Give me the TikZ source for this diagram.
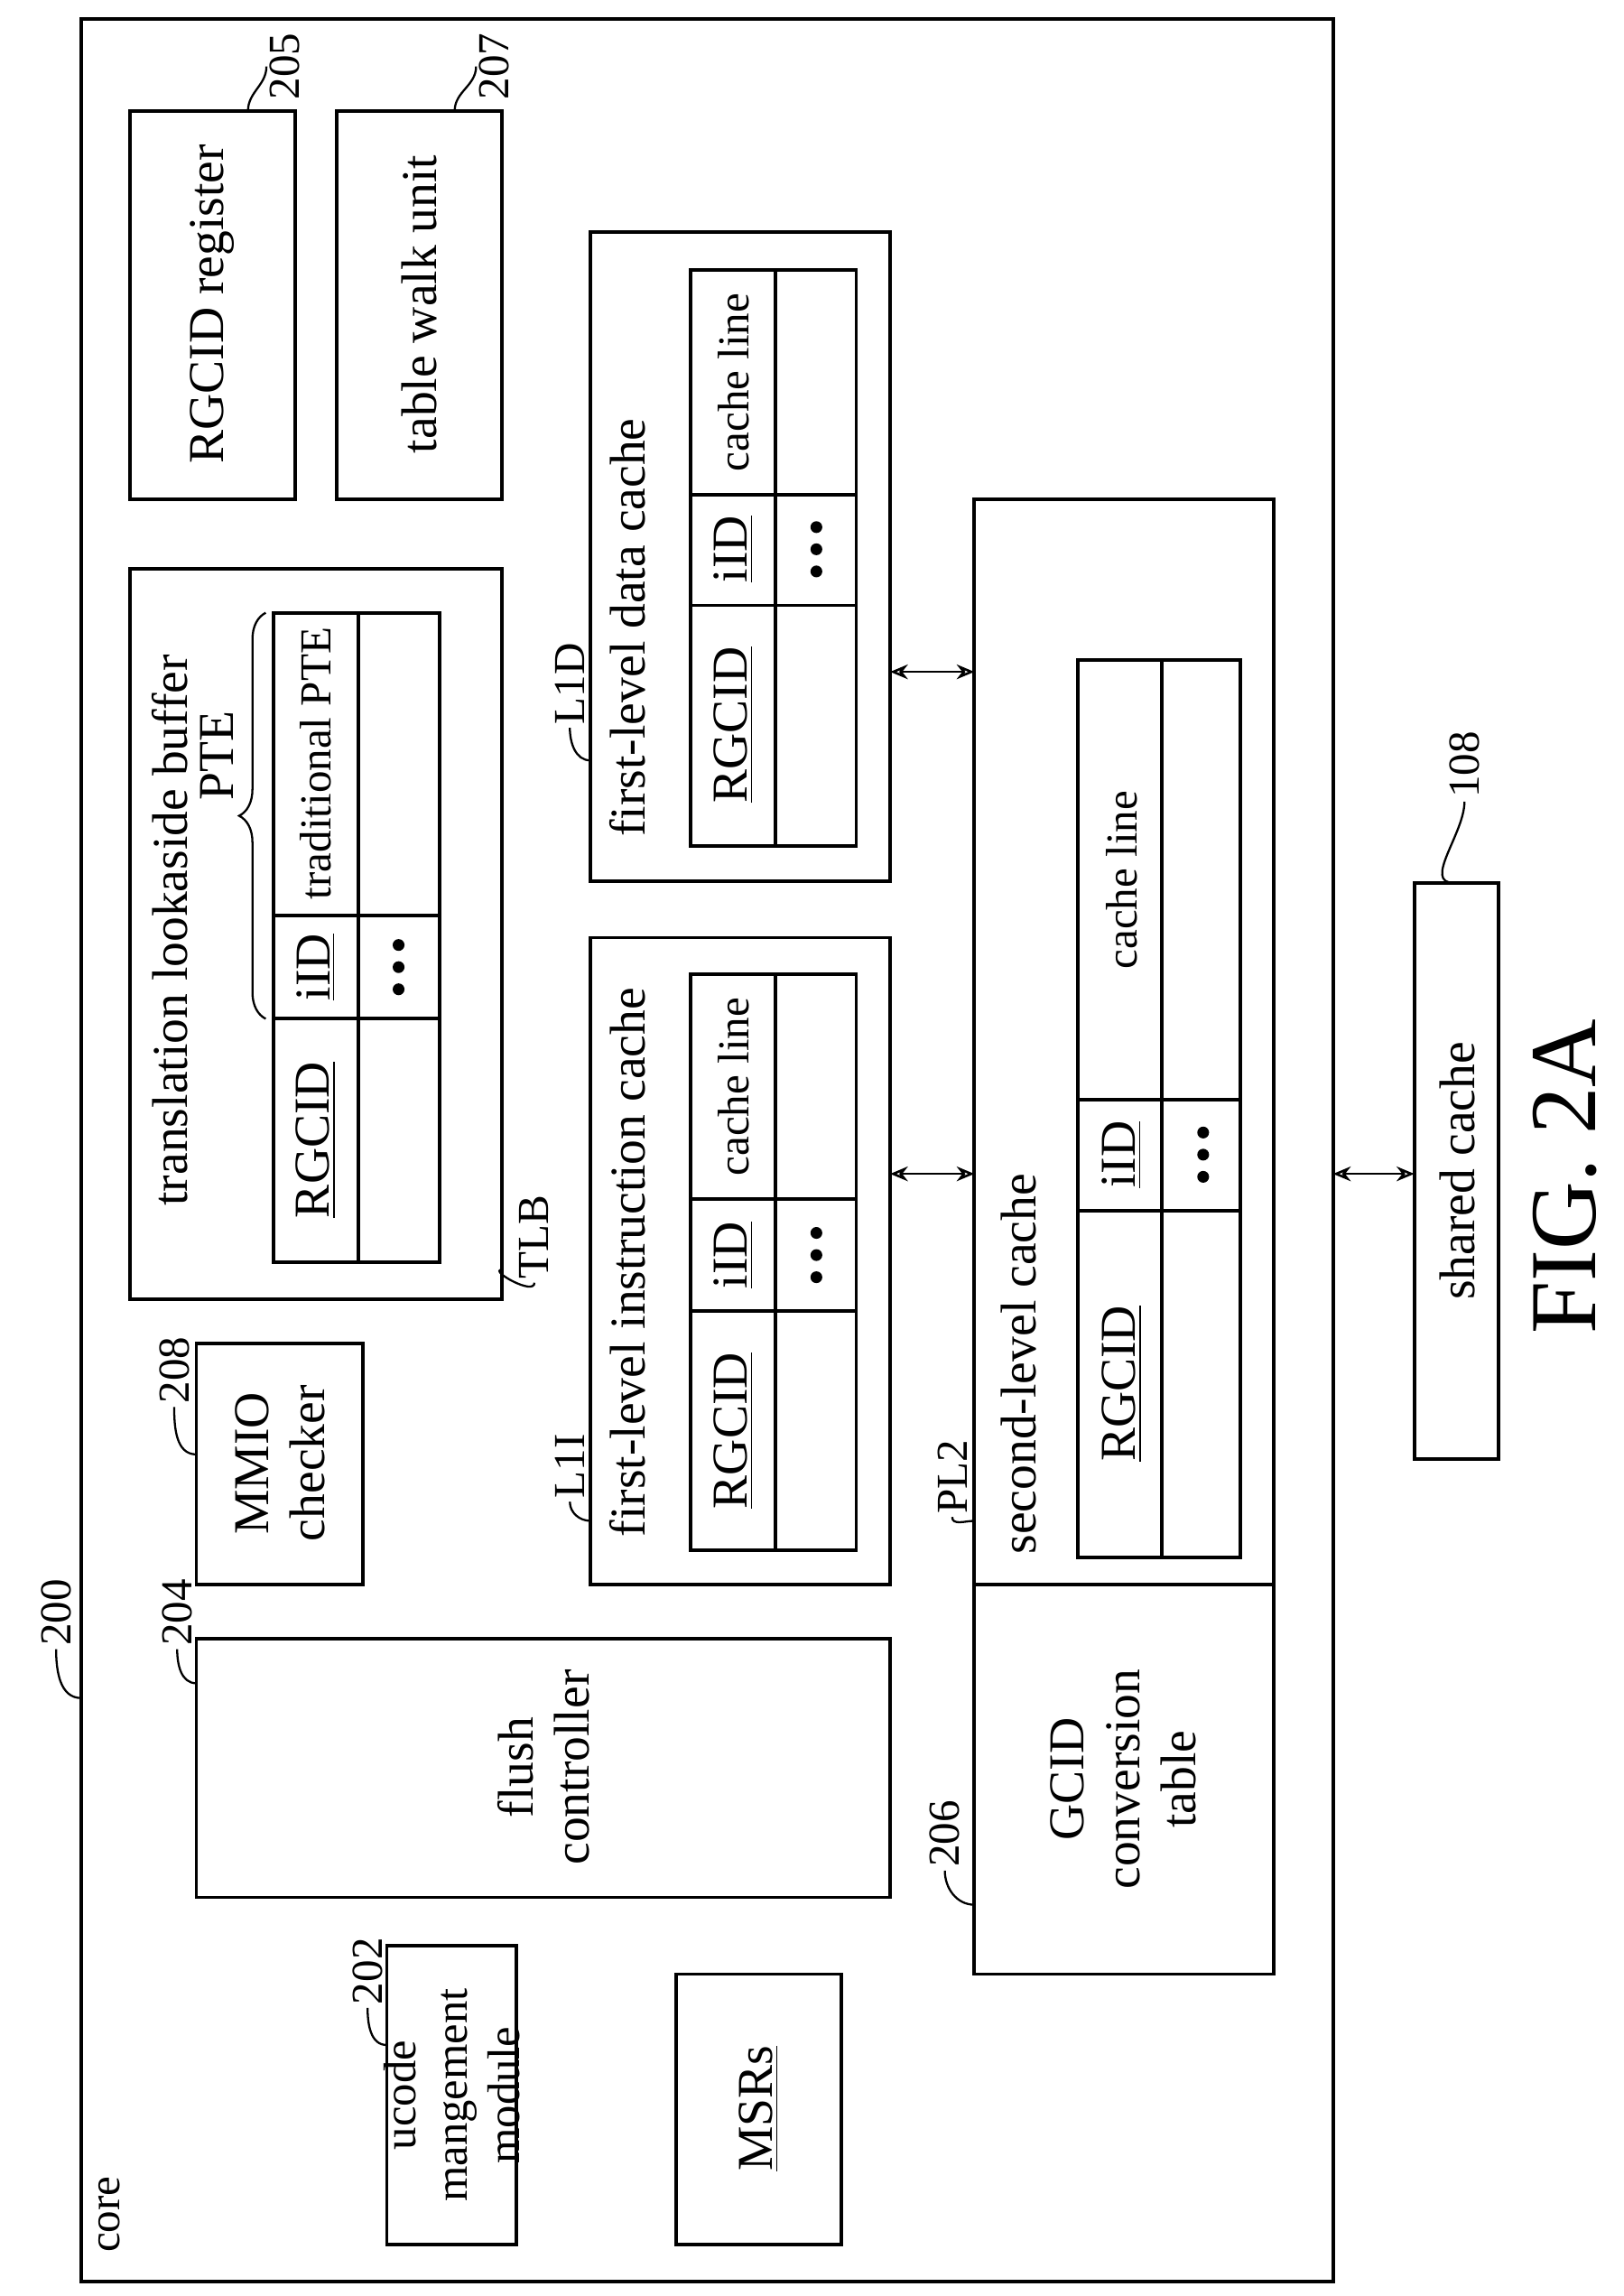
\documentclass[tikz,border=0pt]{standalone}
\usepackage{fontspec}
\setmainfont{Liberation Serif}
\usetikzlibrary{decorations.pathreplacing,arrows.meta}
\newcommand\bx[5]{\node[boxst,minimum width={(#4-#2)*0.5pt},minimum height={(#5-#3)*0.5pt}] (#1) at ({(#2+#4)/2},{(#3+#5)/2}) {};}
\begin{document}
\begin{tikzpicture}[x=0.5pt,y=-0.5pt,
  boxst/.style={draw,line width=1.2pt,inner sep=0,outer sep=0},
  ln/.style={line width=1.2pt},
  lead/.style={line width=0.7pt},
  txt/.style={rotate=90,font=\fontsize{17}{19}\selectfont,align=center,inner sep=1pt},
  sm/.style={rotate=90,font=\fontsize{15}{17}\selectfont,align=center,inner sep=1pt},
  dot/.style={fill,circle,inner sep=0,minimum size=4pt},
  arr/.style={line width=0.8pt,{Stealth[length=6pt,width=5pt,open]}-{Stealth[length=6pt,width=5pt,open]}}]
\useasboundingbox (0,0) rectangle (1100,1555);
\bx{core}{55}{13}{903}{1545}
\bx{rg}{88}{75}{200}{338}
\bx{tw}{228}{75}{340}{338}
\bx{tlb}{88}{385}{340}{880}
\bx{tlbt}{185}{415}{298}{855}
\bx{mmio}{133}{910}{246}{1073}
\bx{flush}{133}{1110}{603}{1285}
\bx{ucode}{262}{1318}{350}{1520}
\bx{msr}{458}{1337}{570}{1520}
\bx{lii}{400}{635}{603}{1073}
\bx{liit}{468}{660}{580}{1050}
\bx{lid}{400}{157}{603}{597}
\bx{lidt}{468}{183}{580}{573}
\bx{ltwo}{660}{338}{863}{1073}
\bx{ltwot}{730}{447}{840}{1055}
\bx{gcid}{660}{1073}{863}{1337}
\bx{sh}{958}{598}{1015}{988}
% table lines
\draw[ln] (243,415)--(243,855) (185,620)--(298,620) (185,690)--(298,690);
\draw[ln] (525,660)--(525,1050) (468,812)--(580,812) (468,888)--(580,888);
\draw[ln] (525,183)--(525,573) (468,335)--(580,335) (468,410)--(580,410);
\draw[ln] (787,447)--(787,1055) (730,745)--(840,745) (730,820)--(840,820);
% dots
\foreach \x/\y in {270/655,553/850,553/372,815/782}{
  \node[dot] (d\x a\y) at (\x,\y-15) {}; \node[dot] (d\x b\y) at (\x,\y) {}; \node[dot] (d\x c\y) at (\x,\y+15) {};}
% texts
\node[sm,anchor=west] (tcore) at (74,1528) {core};
\node[txt] (trg) at (144,206) {RGCID register};
\node[txt] (ttw) at (284,206) {table walk unit};
\node[txt] (ttlb) at (115,630) {translation lookaside buffer};
\node[txt] (tpte) at (147,512) {PTE};
\draw[lead,decorate,decoration={brace,amplitude=9pt}] (180,690)--(180,415);
\node[sm] (ttrad) at (214,517) {traditional PTE};
\node[txt] (tiid1) at (214,655) {\underline{iID}};
\node[txt] (trg1) at (214,772) {\underline{RGCID}};
\node[txt] (tmmio) at (190,991) {MMIO\\checker};
\node[txt] (tfl) at (368,1197) {flush\\controller};
\node[txt,font=\fontsize{15.5}{17.5}\selectfont] (tuc) at (306,1419) {ucode\\mangement\\module};
\node[txt] (tmsr) at (514,1428) {\underline{MSRs}};
\node[txt] (tlii) at (425,855) {first-level instruction cache};
\node[sm] (tcl2) at (497,736) {cache line};
\node[txt] (tiid2) at (497,850) {\underline{iID}};
\node[txt] (trg2) at (497,969) {\underline{RGCID}};
\node[txt] (tlid) at (425,425) {first-level data cache};
\node[sm] (tcl3) at (497,259) {cache line};
\node[txt] (tiid3) at (497,372) {\underline{iID}};
\node[txt] (trg3) at (497,491) {\underline{RGCID}};
\node[txt,anchor=west] (tl2) at (690,1055) {second-level cache};
\node[sm] (tcl4) at (760,596) {cache line};
\node[txt] (tiid4) at (760,782) {\underline{iID}};
\node[txt] (trg4) at (760,937) {\underline{RGCID}};
\node[txt] (tgc) at (761,1205) {GCID\\conversion\\table};
\node[txt] (tsh) at (987,793) {shared cache};
\node[rotate=90,font=\fontsize{32}{36}\selectfont] (tfig) at (1060,797) {FIG. 2A};
% arrows
\draw[arr] (lid.east |- 0,455) -- (ltwo.west |- 0,455);
\draw[arr] (lii.east |- 0,795) -- (ltwo.west |- 0,795);
\draw[arr] (core.east |- 0,795) -- (sh.west |- 0,795);
% reference labels
\node[sm] (l200) at (38,1092) {200};
\node[sm] (l204) at (120,1092) {204};
\node[sm] (l208) at (118,928) {208};
\node[sm] (l202) at (249,1335) {202};
\node[sm] (l205) at (193,45) {205};
\node[sm] (l207) at (335,45) {207};
\node[sm] (lTLB) at (362,838) {TLB};
\node[sm] (lL1I) at (386,993) {L1I};
\node[sm] (lL1D) at (386,463) {L1D};
\node[sm] (lPL2) at (645,1000) {PL2};
\node[sm] (l206) at (640,1242) {206};
\node[sm] (l108) at (992,518) {108};
\coordinate (c200) at (55,1150); \coordinate (c204) at (133,1140);
\coordinate (c208) at (133,985); \coordinate (c202) at (262,1385);
\coordinate (c205) at (168,75); \coordinate (c207) at (308,75);
\coordinate (cTLB) at (340,860); \coordinate (cL1I) at (400,1030);
\coordinate (cL1D) at (400,515); \coordinate (cPL2) at (660,1030);
\coordinate (c206) at (660,1290); \coordinate (c108) at (985,598);
\foreach \n in {200,204,208,202,TLB,L1I,L1D,PL2,206,108}
  \draw[lead] (l\n.west) to[out=-90,in=180] (c\n);
\draw[lead] (c205) to[out=90,in=-90] (l205.north);
\draw[lead] (c207) to[out=90,in=-90] (l207.north);
\end{tikzpicture}
\end{document}
